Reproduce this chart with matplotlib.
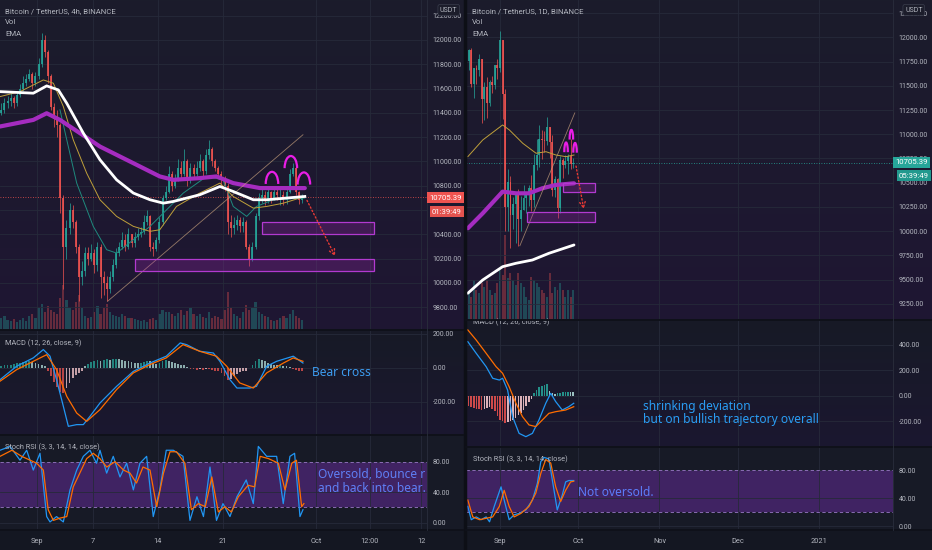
import numpy as np
import matplotlib
matplotlib.use('Agg')
import matplotlib.pyplot as plt
from matplotlib.patches import Rectangle, Arc
from matplotlib.colors import to_rgb

W, H = 932, 550

# ---------------- data: 4h chart (aggregated to 8h candles), days relative to Sep 1 2020
c4 = [11420, 11480, 11500, 11520, 11480, 11550, 11600, 11650, 11680, 11720, 11650, 11700,
      11800, 12000, 11900, 11700, 11450, 11350, 11300, 10700, 10300, 10450, 10600, 10500,
      10300, 10050, 10100, 10250, 10200, 10250, 10150, 10300, 10050, 10000, 9950, 10050,
      10150, 10250, 10300, 10350, 10300, 10400, 10330, 10380, 10400, 10420, 10500, 10550,
      10300, 10280, 10350, 10500, 10700, 10750, 10900, 10800, 10850, 10950, 10900, 11000,
      10850, 10950, 10900, 10950, 11000, 10920, 11050, 11100, 11000, 10950, 10900, 10850,
      10800, 10500, 10450, 10480, 10520, 10470, 10500, 10300, 10200, 10300, 10550, 10700,
      10720, 10680, 10750, 10700, 10750, 10720, 10720, 10680, 10750, 10900, 10950, 10750,
      10680, 10705]
h4 = [11480, 11520, 11540, 11560, 11540, 11580, 11640, 11700, 11720, 11760, 11740, 11740,
      11850, 12060, 12040, 11920, 11720, 11480, 11420, 11320, 10720, 10520, 10660, 10640,
      10520, 10320, 10180, 10300, 10300, 10320, 10280, 10340, 10320, 10100, 10060, 10100,
      10200, 10290, 10340, 10420, 10400, 10450, 10400, 10420, 10450, 10460, 10560, 10600,
      10560, 10340, 10380, 10540, 10720, 10800, 10960, 10920, 10900, 11020, 11000, 11100,
      11020, 10990, 10980, 11000, 11060, 11020, 11100, 11180, 11120, 11020, 10960, 10920,
      10880, 10820, 10560, 10540, 10560, 10540, 10540, 10520, 10320, 10340, 10580, 10740,
      10780, 10760, 10780, 10760, 10800, 10780, 10780, 10760, 10800, 10940, 10990, 10960,
      10760, 10730]
l4 = [11380, 11400, 11440, 11460, 11440, 11460, 11530, 11580, 11620, 11660, 11600, 11620,
      11680, 11780, 11860, 11650, 11420, 11280, 11200, 10580, 9950, 10200, 10400, 10450,
      10250, 9850, 9980, 10060, 10150, 10180, 10080, 10100, 9880, 9900, 9850, 9920,
      10020, 10120, 10220, 10280, 10260, 10280, 10300, 10300, 10350, 10380, 10400, 10480,
      10260, 10220, 10260, 10330, 10480, 10680, 10740, 10760, 10780, 10840, 10860, 10880,
      10800, 10820, 10860, 10880, 10920, 10880, 10900, 11020, 10960, 10920, 10860, 10800,
      10760, 10400, 10380, 10400, 10440, 10420, 10420, 10280, 10140, 10180, 10280, 10520,
      10660, 10640, 10660, 10660, 10680, 10680, 10640, 10640, 10650, 10740, 10880, 10720,
      10650, 10660]
first_open_4h = 11400
vol4 = [12, 14, 10, 9, 11, 8, 10, 12, 9, 14, 16, 12, 22, 26, 18, 24, 20, 18, 16, 32, 45,
        30, 22, 20, 28, 35, 22, 14, 12, 13, 18, 24, 16, 22, 26, 18, 15, 14, 13, 16, 14, 12,
        12, 11, 10, 9, 10, 8, 11, 12, 10, 16, 20, 18, 18, 16, 14, 17, 20, 15, 19, 22, 16,
        14, 16, 13, 12, 18, 12, 14, 13, 11, 20, 38, 22, 16, 14, 12, 18, 25, 20, 22, 28, 18,
        16, 14, 13, 10, 9, 10, 12, 14, 12, 16, 20, 14, 12, 10]
hist4 = [10, 15, 20, 20, 25, 28, 30, 35, 38, 40, 35, 30, 25, 20, 10, -20, -50, -80,
         -110, -140, -147, -120, -90, -60, -40, -30, -15, 10, 25, 35, 40, 45, 42, 45, 50, 48,
         50, 53, 50, 45, 42, 38, 35, 32, 28, 30, 35, 40, 38, 30, 25, 30, 40, 45, 42, 35, 30,
         25, 20, 15, 5, -5, -8, -10, -8, -12, -5, -8, -10, -15, -20, -30, -50, -70, -65,
         -50, -35, -25, -20, -15, 0, 20, 40, 50, 48, 40, 30, 25, 18, 15, 15, 12, 10, 5, -5,
         -12, -15, -18]

ema_purple_4h_d = [-3.98, -0.4, 1.04, 2.47, 4.62, 6.77, 10.36, 13.2, 14.66, 17.5, 19.3, 21.1, 23.98, 28.8]
ema_purple_4h = [11288, 11342, 11397, 11342, 11233, 11123, 10986, 10877, 10849, 10863, 10877, 10822, 10781, 10781]
ema_white_4h_d = [-3.98, -0.4, 1.04, 2.29, 3.2, 4.98, 6.77, 8.56, 10.36, 12.15, 13.58, 14.66, 17.5, 19.67, 21.1, 23.26, 24.7, 28.8]
ema_white_4h = [11575, 11562, 11622, 11589, 11479, 11233, 11014, 10849, 10740, 10685, 10657, 10671, 10726, 10794, 10753, 10685, 10685, 10712]
ema_yellow_4h_d = [-3.98, -1.83, 0.68, 1.76, 2.83, 3.9, 5.34, 6.77, 8.56, 10.36, 12.15, 13.2, 15.0, 17.5, 19.67, 21.1, 23.26, 24.7, 26.5, 28.8]
ema_yellow_4h = [11534, 11575, 11671, 11644, 11452, 11178, 10904, 10685, 10548, 10466, 10425, 10438, 10630, 10740, 10822, 10712, 10616, 10630, 10657, 10712]
ema_teal_4h_d = [2.47, 3.2, 4.27, 6.05, 7.49, 8.56, 10.36, 12.15, 13.58, 15.73, 18.24, 20.0, 21.1, 22.55, 23.6, 25.4, 28.8]
ema_teal_4h = [11425, 11178, 10822, 10466, 10274, 10246, 10356, 10466, 10575, 10740, 10877, 10849, 10630, 10548, 10630, 10685, 10699]

macd_4h_d = [-3.98, -2.19, -0.4, 0.68, 1.4, 2.1, 2.83, 3.37, 4.27, 4.98, 5.7, 6.77, 8.56, 10.36, 12.15, 13.9, 15.4, 16.09, 17.5, 18.96, 19.67, 20.75, 21.5, 22.9, 23.6, 24.7, 25.77, 27.56, 28.6]
macd_4h = [-69, 10, 59, 108, 69, -69, -225, -343, -333, -333, -284, -206, -108, -20, 29, 69, 147, 137, 98, 88, 39, -69, -118, -118, -108, 10, 39, 69, 29]
signal_4h_d = [-3.98, -2.19, -0.4, 1.04, 2.1, 3.2, 4.27, 5.34, 6.77, 8.56, 10.36, 12.15, 13.9, 15.7, 17.5, 19.3, 20.4, 21.8, 23.26, 24.7, 26.5, 27.56, 28.6]
signal_4h = [-78, -10, 39, 78, -10, -167, -265, -314, -245, -127, -29, 20, 59, 137, 98, 69, 10, -88, -118, -29, 29, 59, 39]

stoch_k_4h_d = [-3.98, -2.9, -1.83, -1.11, -0.4, 0.32, 1.04, 1.4, 2.1, 2.83, 3.55, 4.27, 4.98, 5.7, 6.4, 6.77, 7.49, 8.2, 8.92, 9.64, 10.36, 11.07, 11.79, 12.5, 13.2, 13.9, 14.66, 15.7, 16.45, 17.2, 17.9, 18.6, 19.3, 20.0, 20.75, 21.5, 22.5, 23.26, 23.8, 24.7, 25.77, 26.48, 27.2, 27.7, 28.28, 28.6]
stoch_k_4h = [95, 100, 82, 95, 69, 91, 8, 1, 8, 1, 43, 69, 87, 95, 78, 95, 65, 87, 60, 78, 43, 78, 87, 8, 43, 95, 95, 87, 3, 34, 8, 73, 3, 25, 8, 34, 56, 25, 100, 87, 87, 25, 87, 91, 8, 17]
stoch_d_4h_d = [-3.98, -2.7, -1.65, -0.75, -0.04, 0.68, 1.2, 1.76, 2.47, 3.2, 3.9, 4.6, 5.34, 6.05, 6.77, 7.5, 8.4, 9.3, 10.0, 10.7, 11.4, 12.15, 12.87, 13.6, 14.3, 15.0, 15.9, 16.6, 17.35, 18.1, 18.8, 19.5, 20.2, 20.9, 21.65, 22.7, 23.4, 24.0, 24.9, 25.95, 26.67, 27.4, 27.9, 28.46, 28.7]
stoch_d_4h = [87, 95, 87, 82, 78, 69, 17, 3, 6, 8, 47, 65, 84, 91, 84, 73, 80, 69, 65, 52, 73, 69, 21, 65, 93, 93, 78, 17, 25, 21, 60, 14, 21, 14, 34, 49, 47, 87, 84, 78, 43, 78, 82, 21, 25]

# ---------------- data: 1D chart, Aug 20 .. Sep 29 2020
days_1d = list(range(-12, 29))
o1 = [11754, 11866, 11522, 11681, 11665, 11774, 11366, 11488, 11324, 11542, 11506, 11711,
      11680, 11970, 11415, 10245, 10512, 10167, 10280, 10373, 10126, 10221, 10338, 10394,
      10442, 10323, 10680, 10786, 10954, 10939, 10933, 11080, 10921, 10424, 10535, 10241,
      10736, 10686, 10728, 10775, 10690]
h1 = [11880, 11885, 11688, 11718, 11824, 11778, 11538, 11595, 11560, 11596, 11715, 11773,
      12067, 11970, 11465, 10640, 10565, 10357, 10400, 10440, 10360, 10480, 10400, 10480,
      10580, 10800, 10950, 11100, 11045, 11038, 11180, 11080, 10990, 10574, 10550, 10774,
      10760, 10782, 10800, 10950, 10760]
l1 = [11668, 11485, 11376, 11514, 11604, 11117, 11148, 11163, 11287, 11427, 11463, 11570,
      11640, 11160, 10000, 10000, 9825, 10020, 9875, 9850, 10000, 10220, 10192, 10264,
      10212, 10250, 10631, 10667, 10743, 10812, 10890, 10760, 10361, 10350, 10136, 10190,
      10553, 10656, 10594, 10638, 10650]
c1 = [11866, 11522, 11681, 11665, 11774, 11366, 11488, 11324, 11542, 11506, 11711, 11680,
      11970, 11415, 10245, 10512, 10167, 10280, 10373, 10126, 10221, 10338, 10394, 10442,
      10323, 10680, 10786, 10954, 10939, 10933, 11080, 10921, 10424, 10535, 10241, 10736,
      10686, 10728, 10775, 10690, 10705]
vol1 = [27, 23, 40, 30, 27, 37, 33, 40, 30, 25, 27, 37, 50, 45, 85, 42, 47, 40, 35, 47,
        37, 33, 23, 20, 43, 40, 37, 33, 30, 27, 23, 47, 27, 33, 30, 37, 30, 23, 30, 23, 30]
hist1 = [-80, -85, -95, -100, -105, -110, -100, -95, -90, -100, -120, -160, -190, -200,
         -210, -205, -200, -190, -170, -150, -130, -110, -80, -50, -20, 20, 50, 70, 80, 90,
         94, 40, 20, 15, 20, 25, 30, 32, 35, 33, 30]

ema_purple_1d_d = [-12.3, -6.6, 1, 6.1, 11.1, 16.2, 21.3, 28.3]
ema_purple_1d = [10030, 10185, 10408, 10391, 10391, 10443, 10477, 10494]
ema_white_1d_d = [-12.3, -6.6, 1, 6.1, 12.4, 18.7, 28.3]
ema_white_1d = [9360, 9497, 9634, 9669, 9703, 9772, 9858]
ema_yellow_1d_d = [-12.3, -6.6, 1, 3.6, 8.7, 13.8, 17.6, 21.4, 25.2, 28.3]
ema_yellow_1d = [10769, 10941, 11096, 11044, 10907, 10804, 10820, 10786, 10769, 10786]

macd_1d_d = [-12.3, -9.1, -5.3, -2.8, -0.25, 1, 2.9, 4.8, 7.3, 9.9, 12.4, 14.9, 17.5, 19.4, 21.3, 23.8, 26.3, 28.2]
macd_1d = [426, 335, 230, 139, 125, 139, 47, -162, -293, -319, -293, -188, -57, 21, -44, -110, -84, -57]
signal_1d_d = [-12.3, -9.1, -5.3, -1.5, 1, 3.5, 6.1, 8.6, 11.1, 13.7, 16.2, 18.7, 21.3, 25.1, 28.2]
signal_1d = [518, 439, 335, 230, 178, 73, -57, -162, -227, -240, -188, -136, -123, -110, -84]

stoch_k_1d_d = [-12.3, -11, -9.1, -7.2, -5.3, -4, -2.2, 0.4, 1.6, 3.5, 5.4, 7.3, 9.9, 12.4, 14.3, 15.6, 16.8, 18.7, 20, 21.9, 23.8, 25.1, 26.3, 28.2]
stoch_k_1d = [28, 9, 13, 9, 13, 6, 28, 56, 37, 9, 16, 18, 23, 37, 61, 92, 98, 96, 66, 23, 44, 63, 65, 65]
stoch_d_1d_d = [-12.3, -10.4, -7.8, -5.3, -2.8, -0.25, 1.6, 3.5, 5.4, 8, 11.1, 13.7, 15.6, 17.5, 19.4, 21.3, 23.2, 25.1, 27, 28.2]
stoch_d_1d = [37, 13, 9, 11, 13, 28, 51, 28, 13, 18, 28, 47, 75, 95, 90, 56, 35, 51, 63, 64]

# drawings shared by both charts (day, price)
trend_line = ([7.6, 28.6], [9850, 11220])
zones = [(24.2, 36.2, 10400, 10500), (10.5, 36.2, 10100, 10200)]
arrow_from, arrow_to = (28.9, 10700), (32.2, 10200)
arcs = [(25.27, 10815), (27.3, 10945), (28.7, 10810)]
last_price = 10705.39

# ---------------- styling
BG_TOP = '#1b1c2b'
BG_BOT = '#1f1633'
PANE = '#171a26'
TXT = '#b2b5be'
UP, DOWN = '#26a69a', '#ef5350'
FONT = 'Roboto'


def px(x0, y0, x1, y1):
    return [x0 / W, 1 - y1 / H, (x1 - x0) / W, (y1 - y0) / H]


fig = plt.figure(figsize=(W / 100, H / 100), dpi=100, facecolor=PANE)

# background gradient (price pane purple tint at bottom)
bg = np.zeros((H, W, 3))
top, bot, pane = np.array(to_rgb(BG_TOP)), np.array(to_rgb(BG_BOT)), np.array(to_rgb(PANE))
for x0, x1, pb, mb, sb in [(0, 466, 330, 435, 530), (466, W, 320, 447, 530)]:
    for y in range(H):
        if y < pb:
            t = y / pb
            col = top * (1 - t) + bot * t
        elif y < mb:
            t = (y - pb) / (mb - pb)
            col = pane * (1 - t) + np.array(to_rgb('#1b1730')) * t
        elif y < sb:
            col = pane
        else:
            col = np.array(to_rgb('#141722'))
        bg[y, x0:x1] = col
bgax = fig.add_axes([0, 0, 1, 1], zorder=-10)
bgax.imshow(bg, aspect='auto', extent=[0, W, H, 0])
bgax.axis('off')


def style(ax, xlim, ylim, yticks, fmt='{:.2f}'):
    ax.set_facecolor('none')
    ax.set_xlim(*xlim)
    ax.set_ylim(*ylim)
    for s in ax.spines.values():
        s.set_visible(False)
    ax.yaxis.tick_right()
    ax.set_yticks(yticks)
    ax.set_yticklabels([fmt.format(v) for v in yticks], fontsize=5, color=TXT, family=FONT)
    ax.tick_params(axis='y', length=0, pad=4)
    ax.tick_params(axis='x', length=0, labelbottom=False)
    ax.grid(True, color='#262a3a', lw=0.6)


def candles(ax, x, o, h, l, c, width):
    cols = [UP if cc >= oo else DOWN for oo, cc in zip(o, c)]
    ax.vlines(x, l, h, colors=cols, lw=0.6, alpha=0.85, zorder=3)
    body = [max(abs(cc - oo), 8) for oo, cc in zip(o, c)]
    ax.bar(x, body, bottom=np.minimum(o, c), width=width, color=cols, alpha=0.85, zorder=3, lw=0)


def volume(ax, x, v, o, c, width, top):
    vax = ax.twinx()
    vax.set_ylim(0, top)
    vax.axis('off')
    vax.set_zorder(ax.get_zorder() - 1)
    ax.yaxis.tick_right()
    cols = [UP if cc >= oo else DOWN for oo, cc in zip(o, c)]
    vax.bar(x, v, width=width, color=cols, alpha=0.35, lw=0, zorder=1)


def drawings(ax, arc_w, arc_h):
    ax.plot(*trend_line, color='#c9a27e', lw=0.6, alpha=0.7, zorder=4)
    for x0, x1, p0, p1 in zones:
        ax.add_patch(Rectangle((x0, p0), x1 - x0, p1 - p0, fc='#9c27b0', alpha=0.28, ec='none', zorder=4))
        ax.add_patch(Rectangle((x0, p0), x1 - x0, p1 - p0, fc='none', ec='#b23ad0', lw=0.9, zorder=4))
    ax.annotate('', xy=arrow_to, xytext=arrow_from,
                arrowprops=dict(arrowstyle='->', color='#e53935', lw=1.0, ls=':'), zorder=5)
    for cx, cy in arcs:
        ax.add_patch(Arc((cx, cy), arc_w, arc_h, theta1=0, theta2=180, color='#e91ee6', lw=1.6, zorder=6))


def pane_title(x, y, s, size=5.3):
    fig.text(x / W, 1 - y / H, s, color=TXT, fontsize=size, family=FONT, va='center', ha='left')


# ================= LEFT 4h chart
xl = (-3.98, 41.94)
x4 = np.arange(len(c4)) / 3 - 4 + 1 / 6
o4 = [first_open_4h] + c4[:-1]

axp = fig.add_axes(px(0, 0, 427, 330))
style(axp, xl, (9613, 12329), [9800, 10000, 10200, 10400, 10600, 10800, 11000, 11200, 11400, 11600, 11800, 12000, 12200])
volume(axp, x4, vol4, o4, c4, 0.24, 330)
candles(axp, x4, o4, h4, l4, c4, 0.22)
axp.plot(ema_teal_4h_d, ema_teal_4h, color='#1f8a7e', lw=0.7, zorder=4)
axp.plot(ema_yellow_4h_d, ema_yellow_4h, color='#bfa03a', lw=0.7, zorder=4)
axp.plot(ema_purple_4h_d, ema_purple_4h, color='#a52cc0', lw=3, zorder=4, solid_capstyle='round')
axp.plot(ema_white_4h_d, ema_white_4h, color='white', lw=2, zorder=5)
axp.axhline(last_price, color=DOWN, lw=0.6, ls=(0, (1, 2)), zorder=2)
drawings(axp, 1.35, 200)

axm = fig.add_axes(px(0, 330, 427, 435))
style(axm, xl, (-394, 223), [-200, 0, 200])
axm.bar(x4, hist4, width=0.2, lw=0, zorder=2,
        color=[(UP if v >= 0 else DOWN) if i == 0 or abs(v) >= abs(hist4[i - 1]) else ('#b2dfdb' if v >= 0 else '#ffcdd2')
               for i, v in enumerate(hist4)], alpha=0.75)
axm.plot(macd_4h_d, macd_4h, color='#2196f3', lw=0.9, zorder=3)
axm.plot(signal_4h_d, signal_4h, color='#ff6d00', lw=0.9, zorder=3)

axs = fig.add_axes(px(0, 435, 427, 530))
style(axs, xl, (-9.6, 115), [0, 40, 80])
axs.axhspan(20, 80, color='#6a2ca0', alpha=0.5, lw=0, zorder=1)
for lv in (20, 80):
    axs.axhline(lv, color='#9a78c8', lw=0.6, ls=(0, (4, 3)), zorder=2)
axs.plot(stoch_k_4h_d, stoch_k_4h, color='#2196f3', lw=0.9, zorder=3)
axs.plot(stoch_d_4h_d, stoch_d_4h, color='#ff6d00', lw=0.9, zorder=3)

for ax in (axp, axm, axs):
    ax.set_xticks([0, 6, 13, 20, 30, 35.8, 41.3])
axs.tick_params(axis='x', labelbottom=True, labelsize=5.3, labelcolor=TXT, pad=6)
axs.set_xticklabels(['Sep', '7', '14', '21', 'Oct', '12:00', '12'], family=FONT)

# ================= RIGHT 1D chart
xr = (-13.0, 150.3)
axp2 = fig.add_axes(px(466, 0, 893, 320))
style(axp2, xr, (9084, 12385), [9250, 9500, 9750, 10000, 10250, 10500, 10750, 11000, 11250, 11500, 11750, 12000, 12250])
volume(axp2, days_1d, vol1, o1, c1, 0.75, 320)
candles(axp2, days_1d, o1, h1, l1, c1, 0.7)
axp2.plot(ema_yellow_1d_d, ema_yellow_1d, color='#bfa03a', lw=0.7, zorder=4)
axp2.plot(ema_purple_1d_d, ema_purple_1d, color='#a52cc0', lw=3, zorder=4, solid_capstyle='round')
axp2.plot(ema_white_1d_d, ema_white_1d, color='white', lw=2, zorder=5, solid_capstyle='round')
axp2.axhline(last_price, color=UP, lw=0.6, ls=(0, (1, 2)), zorder=2)
drawings(axp2, 1.35, 200)

axm2 = fig.add_axes(px(466, 320, 893, 447))
style(axm2, xr, (-400, 596), [-200, 0, 200, 400])
axm2.bar(days_1d, hist1, width=0.6, lw=0, zorder=2,
         color=[(UP if v >= 0 else DOWN) if i == 0 or abs(v) >= abs(hist1[i - 1]) else ('#b2dfdb' if v >= 0 else '#ffcdd2')
                for i, v in enumerate(hist1)], alpha=0.85)
axm2.plot(macd_1d_d, macd_1d, color='#2196f3', lw=0.9, zorder=3)
axm2.plot(signal_1d_d, signal_1d, color='#ff6d00', lw=0.9, zorder=3)

axs2 = fig.add_axes(px(466, 447, 893, 530))
style(axs2, xr, (-5.7, 112.9), [0, 40, 80])
axs2.axhspan(20, 80, color='#6a2ca0', alpha=0.5, lw=0, zorder=1)
for lv in (20, 80):
    axs2.axhline(lv, color='#9a78c8', lw=0.6, ls=(0, (4, 3)), zorder=2)
axs2.plot(stoch_k_1d_d, stoch_k_1d, color='#2196f3', lw=0.9, zorder=3)
axs2.plot(stoch_d_1d_d, stoch_d_1d, color='#ff6d00', lw=0.9, zorder=3)

for ax in (axp2, axm2, axs2):
    ax.set_xticks([0, 30, 61, 91, 122])
axs2.tick_params(axis='x', labelbottom=True, labelsize=5.3, labelcolor=TXT, pad=6)
axs2.set_xticklabels(['Sep', 'Oct', 'Nov', 'Dec', '2021'], family=FONT)

# ================= separators and overlays
sep = fig.add_axes([0, 0, 1, 1], zorder=20)
sep.set_xlim(0, W)
sep.set_ylim(H, 0)
sep.axis('off')
sep.patch.set_alpha(0)
sep.plot([464.5, 464.5], [0, H], color='#0d0f16', lw=2.5)
for x0, x1, ys in [(0, 463, (330, 435, 530)), (466, W, (320, 447, 530))]:
    for yy in ys:
        sep.plot([x0, x1], [yy, yy], color='#0f111a', lw=1.4)
sep.plot([427, 427], [0, 530], color='#2a2e3c', lw=0.6)
sep.plot([893, 893], [0, 530], color='#2a2e3c', lw=0.6)

# price labels
for x, y, s, fc in [(429, 197.5, '10705.39', DOWN), (432, 211.5, '01:39:49', '#e4534f'),
                    (895, 162.5, '10705.39', UP), (899, 175.5, '05:39:49', '#22998e')]:
    fig.text(x / W, 1 - y / H, s, color='white', fontsize=5.6, family=FONT, va='center', ha='left',
             bbox=dict(boxstyle='square,pad=0.28', fc=fc, ec='none'), zorder=30)
for x in (440, 905):
    fig.text(x / W, 1 - 10 / H, 'USDT', color=TXT, fontsize=5, family=FONT, va='center', ha='left',
             bbox=dict(boxstyle='round,pad=0.3', fc='#1c1d2b', ec='#3a3d4c', lw=0.5), zorder=30)

# pane titles
for x, title in [(5, 'Bitcoin / TetherUS, 4h, BINANCE'), (472, 'Bitcoin / TetherUS, 1D, BINANCE')]:
    pane_title(x, 11, title, 5.6)
    pane_title(x, 22.5, 'Vol', 5.6)
    pane_title(x, 34, 'EMA', 5.6)
pane_title(5, 343, 'MACD (12, 26, close, 9)')
pane_title(473, 322.5, 'MACD (12, 26, close, 9)')
pane_title(5, 447, 'Stoch RSI (3, 3, 14, 14, close)')
pane_title(473, 459, 'Stoch RSI (3, 3, 14, 14, close)')

# annotations
ANN = 'Noto Sans'
AS = 8.6
fig.text(312 / W, 1 - 372 / H, 'Bear cross', color='#3d9cf0', fontsize=AS, family=ANN, va='center')
t1 = fig.text(318 / W, 1 - 475 / H, 'Oversold, bounce r', color='#5f7ff5', fontsize=AS, family=ANN, va='center')
t2 = fig.text(318 / W, 1 - 488 / H, 'and back into bear.', color='#5f7ff5', fontsize=AS, family=ANN, va='center')
for t in (t1, t2):
    t.set_clip_box(axs.bbox)
    t.set_clip_on(True)
fig.text(643 / W, 1 - 406.5 / H, 'shrinking deviation', color='#2a9df4', fontsize=AS, family=ANN, va='center')
fig.text(643 / W, 1 - 420 / H, 'but on bullish trajectory overall', color='#2a9df4', fontsize=AS, family=ANN, va='center')
fig.text(578 / W, 1 - 493 / H, 'Not oversold.', color='#5c7cfa', fontsize=AS, family=ANN, va='center')

fig.savefig('out.png', dpi=100, facecolor=fig.get_facecolor())
